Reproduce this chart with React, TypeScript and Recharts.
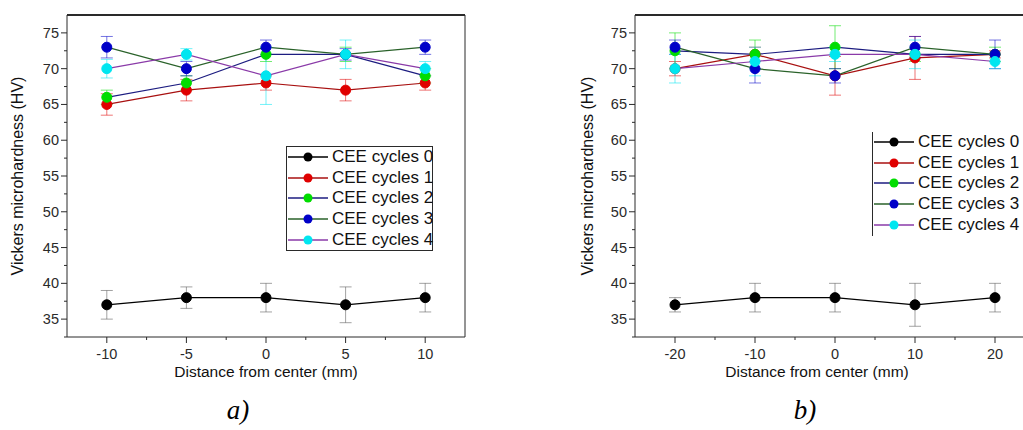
import React from 'react';
import { LineChart, Line, XAxis, YAxis, ErrorBar, ReferenceLine } from 'recharts';

// panel a) distances and hardness values per CEE cycle
const distA = [-10, -5, 0, 5, 10];
const a0 = [37, 38, 38, 37, 38];
const a1 = [65, 67, 68, 67, 68];
const a2 = [66, 68, 72, 72, 69];
const a3 = [73, 70, 73, 72, 73];
const a4 = [70, 72, 69, 72, 70];
const a0Err = [2, 1.5, 2, 2.5, 2];
const a1Err = [1.5, 1.5, 1, 1.5, 1];
const a2Err = [1, 1, 1, 1, 1];
const a3Err = [1.5, 1, 1, 0.8, 1];
const a4Err = [1.3, 0.8, 4, 2, 1];

// panel b)
const distB = [-20, -10, 0, 10, 20];
const b0 = [37, 38, 38, 37, 38];
const b1 = [70, 72, 69, 71.5, 72];
const b2 = [72.5, 72, 73, 72, 72];
const b3 = [73, 70, 69, 73, 72];
const b4 = [70, 71, 72, 72, 71];
const b0Err = [1, 2, 2, 3, 2];
const b1Err = [1, 1, 2.7, 3, 0.5];
const b2Err = [2.5, 2, 3, 1, 1];
const b3Err = [1, 2, 1, 1.5, 2];
const b4Err = [2, 2, 1, 2, 1];

const yTicks = [32.5, 35, 37.5, 40, 42.5, 45, 47.5, 50, 52.5, 55, 57.5, 60, 62.5, 65, 67.5, 70, 72.5, 75];
const xTicksA = [-10, -7.5, -5, -2.5, 0, 2.5, 5, 7.5, 10];
const xTicksB = [-20, -15, -10, -5, 0, 5, 10, 15, 20];

const seriesNames = ['CEE cycles 0', 'CEE cycles 1', 'CEE cycles 2', 'CEE cycles 3', 'CEE cycles 4'];
const lineColors = ['#000000', '#a81010', '#1c1c80', '#2a622a', '#8a3aa8'];
const markerColors = ['#000000', '#e00000', '#00dd00', '#0000c8', '#00e6f0'];

const FONT = '"Liberation Sans", Arial, sans-serif';
const INK = '#2a2a2a';

function buildRows(xs: number[], vals: number[][], errs: number[][]) {
  return xs.map((x, i) => {
    const row: Record<string, number> = { x };
    vals.forEach((v, k) => {
      row[`c${k}`] = v[i];
      row[`e${k}`] = errs[k][i];
    });
    return row;
  });
}

const rowsA = buildRows(distA, [a0, a1, a2, a3, a4], [a0Err, a1Err, a2Err, a3Err, a4Err]);
const rowsB = buildRows(distB, [b0, b1, b2, b3, b4], [b0Err, b1Err, b2Err, b3Err, b4Err]);

const YTick = (props: any) => {
  const { x, y, payload } = props;
  const major = payload.value % 5 === 0;
  return (
    <g>
      <line x1={x} x2={x - (major ? 6 : 3)} y1={y} y2={y} stroke={INK} strokeWidth={1} />
      {major && (
        <text x={x - 8} y={y} dy={5} textAnchor="end" fontSize={14.5} fontFamily={FONT} fill={INK}>
          {payload.value}
        </text>
      )}
    </g>
  );
};

const makeXTick = (step: number) => (props: any) => {
  const { x, y, payload } = props;
  const major = payload.value % step === 0;
  return (
    <g>
      <line x1={x} x2={x} y1={y} y2={y + (major ? 6 : 3)} stroke={INK} strokeWidth={1} />
      {major && (
        <text x={x} y={y + 22} textAnchor="middle" fontSize={14.5} fontFamily={FONT} fill={INK}>
          {payload.value}
        </text>
      )}
    </g>
  );
};

function Panel({ rows, domain, ticks, step, width, right }: any) {
  return (
    <LineChart width={width} height={400} data={rows} margin={{ top: 15, right, bottom: 0, left: 7 }}>
      <XAxis
        dataKey="x"
        type="number"
        domain={domain}
        ticks={ticks}
        allowDataOverflow
        height={63}
        tickSize={0}
        tickMargin={0}
        tickLine={false}
        tick={makeXTick(step)}
        axisLine={{ stroke: INK }}
        interval={0}
      />
      <YAxis
        type="number"
        domain={[32.5, 77.5]}
        ticks={yTicks}
        allowDataOverflow
        width={60}
        tickSize={0}
        tickMargin={0}
        tickLine={false}
        tick={YTick}
        axisLine={{ stroke: INK }}
        interval={0}
      />
      <ReferenceLine y={77.5} stroke={INK} strokeWidth={2} ifOverflow="visible" />
      {right > 0 && <ReferenceLine x={domain[1]} stroke={INK} strokeWidth={1} ifOverflow="visible" />}
      {seriesNames.map((name, k) => (
        <Line
          key={name}
          dataKey={`c${k}`}
          name={name}
          stroke={lineColors[k]}
          strokeWidth={1.2}
          dot={{ r: 5, fill: markerColors[k], stroke: markerColors[k], strokeWidth: 1 }}
          activeDot={false}
          isAnimationActive={false}
        >
          <ErrorBar
            dataKey={`e${k}`}
            direction="y"
            width={6}
            stroke={k === 0 ? '#555' : markerColors[k]}
            strokeOpacity={0.55}
            strokeWidth={1}
          />
        </Line>
      ))}
    </LineChart>
  );
}

function LegendBox({ left, top, width, height, boxed }: any) {
  return (
    <div
      style={{
        position: 'absolute',
        left,
        top,
        width,
        height,
        boxSizing: 'border-box',
        border: boxed ? `1px solid ${INK}` : 'none',
        borderLeft: `1px solid ${INK}`,
        background: boxed ? '#fff' : 'transparent',
        fontFamily: FONT,
        fontSize: 17,
        color: '#111',
        whiteSpace: 'nowrap',
      }}
    >
      {seriesNames.map((name, k) => (
        <div key={name} style={{ display: 'flex', alignItems: 'center', height: 20.6 }}>
          <svg width={42} height={12} style={{ marginLeft: 1, flex: 'none' }}>
            <line x1={0} x2={40} y1={6} y2={6} stroke={lineColors[k]} strokeWidth={1.4} />
            <circle cx={20} cy={6} r={4.5} fill={markerColors[k]} />
          </svg>
          <span style={{ marginLeft: 2 }}>{name}</span>
        </div>
      ))}
    </div>
  );
}

const titleStyle: React.CSSProperties = {
  position: 'absolute',
  fontFamily: FONT,
  color: '#111',
  whiteSpace: 'nowrap',
};

const yTitle = 'Vickers microhardness (HV)';
const xTitle = 'Distance from center (mm)';

export default function App() {
  return (
    <div style={{ position: 'absolute', left: 0, top: 0, width: 1023, height: 430, background: '#fff', overflow: 'hidden' }}>
      <div style={{ position: 'absolute', left: 0, top: 0 }}>
        <Panel rows={rowsA} domain={[-12.5, 12.5]} ticks={xTicksA} step={5} width={480} right={15} />
      </div>
      <div style={{ position: 'absolute', left: 568, top: 0 }}>
        <Panel rows={rowsB} domain={[-25, 23.5]} ticks={xTicksB} step={10} width={455} right={0} />
      </div>

      <LegendBox left={286} top={146} width={147} height={105} boxed />
      <LegendBox left={872} top={132} width={151} height={104} boxed={false} />

      <div style={{ ...titleStyle, fontSize: 16, left: 18, top: 176, transform: 'translate(-50%, -50%) rotate(-90deg)' }}>{yTitle}</div>
      <div style={{ ...titleStyle, fontSize: 16, left: 588, top: 176, transform: 'translate(-50%, -50%) rotate(-90deg)' }}>{yTitle}</div>
      <div style={{ ...titleStyle, fontSize: 15.5, left: 266, top: 372, transform: 'translate(-50%, -50%)' }}>{xTitle}</div>
      <div style={{ ...titleStyle, fontSize: 15.5, left: 817, top: 372, transform: 'translate(-50%, -50%)' }}>{xTitle}</div>

      <div style={{ position: 'absolute', left: 238, top: 410, transform: 'translate(-50%, -50%)', fontFamily: '"Liberation Serif", "Times New Roman", serif', fontStyle: 'italic', fontSize: 27 }}>a)</div>
      <div style={{ position: 'absolute', left: 805, top: 410, transform: 'translate(-50%, -50%)', fontFamily: '"Liberation Serif", "Times New Roman", serif', fontStyle: 'italic', fontSize: 27 }}>b)</div>
    </div>
  );
}
